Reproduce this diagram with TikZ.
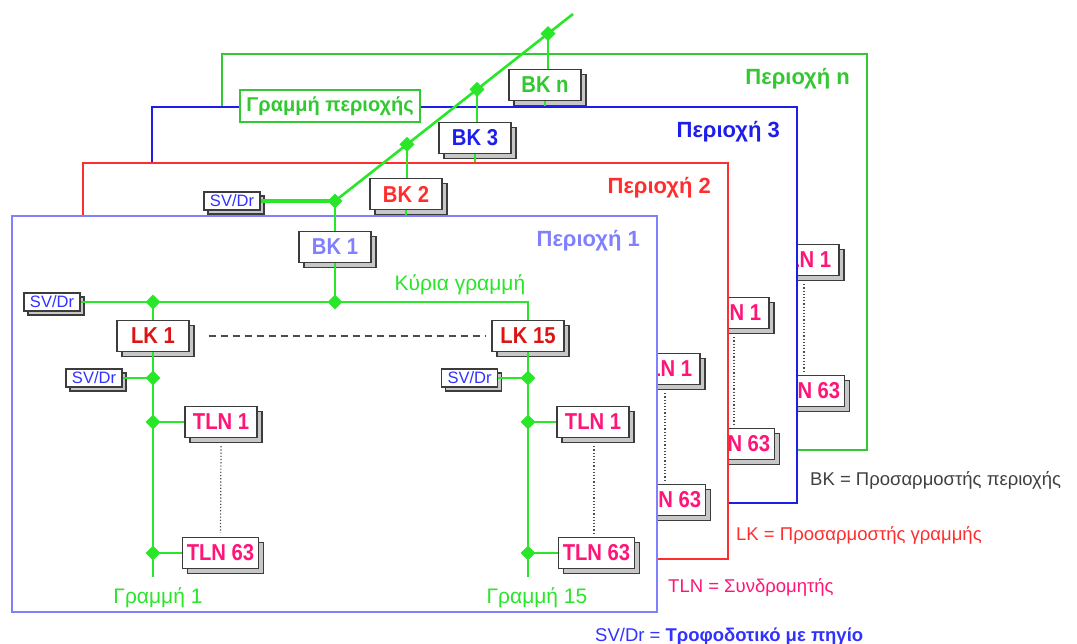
\documentclass[tikz,border=0pt]{standalone}
\usepackage{fontspec}
\setmainfont{Liberation Sans}
\newfontfamily\boxfont[FakeStretch=0.88]{Liberation Sans}
\usetikzlibrary{shadows,shapes.geometric}
\definecolor{gline}{RGB}{40,230,40}
\definecolor{rone}{RGB}{128,128,255}
\definecolor{rtwo}{RGB}{255,45,45}
\definecolor{rthree}{RGB}{30,30,235}
\definecolor{rnn}{RGB}{50,200,50}
\definecolor{lkred}{RGB}{220,20,20}
\definecolor{tlnpink}{RGB}{255,20,120}
\definecolor{svblue}{RGB}{50,50,255}
\definecolor{boxline}{RGB}{60,60,60}
\tikzset{
 x=1pt, y=-1pt,
 stkbox/.style={draw=boxline, fill=white, line width=1.3pt, minimum width=72pt, minimum height=31pt,
   inner xsep=4pt, inner ysep=0pt, font=\boxfont\fontsize{23}{24}\selectfont\bfseries,
   general shadow={shadow xshift=5pt, shadow yshift=-5pt, fill=black!22, draw=boxline, line width=1.3pt}},
 svbox/.style={draw=boxline, fill=white, line width=1.1pt, minimum width=56pt, minimum height=18pt,
   inner sep=1pt, text=svblue, font=\fontsize{16.5}{18}\selectfont,
   general shadow={shadow xshift=4pt, shadow yshift=-4pt, fill=black!22, draw=boxline, line width=1.1pt}},
 framebox/.style={fill=white, line width=1.5pt, minimum width=645pt, minimum height=396pt, inner sep=0pt},
 titletext/.style={anchor=base east, inner sep=0pt, font=\fontsize{22}{24}\selectfont\bfseries},
 bus/.style={draw=gline, line width=1.8pt},
 trunk/.style={draw=gline, line width=2.6pt},
 junc/.style={diamond, fill=gline, inner sep=0pt, minimum size=15pt},
 dashline/.style={draw=black!70, line width=1.3pt, dash pattern=on 7pt off 5pt},
 dotline/.style={draw=black!70, line width=1.2pt, dash pattern=on 1.2pt off 2pt},
 linelabel/.style={anchor=base, inner sep=0pt, text=gline, font=\fontsize{21}{24}\selectfont},
 areabox/.style={draw=rnn, fill=white, line width=1.2pt, minimum width=180pt, minimum height=32pt,
   inner sep=0pt, text=rnn, font=\fontsize{20}{22}\selectfont\bfseries},
 legend/.style={anchor=base west, inner sep=0pt, font=\fontsize{18.5}{20}\selectfont},
}
% common part of every region: frame, title, BK and the right-hand line's subscribers
% #1 prefix, #2 frame colour, #3 title, #4 BK text, #5 BK colour
\newcommand\regionbase[5]{%
 \node[framebox, draw=#2] (#1-frame) at (334.5,414) {};
 \node[titletext, text=#2] (#1-title) at (640,247) {#3};
 \node[stkbox, text=#5] (#1-bk) at (335,247) {#4};
 \coordinate (#1-j1) at (335,302);
 \draw[bus] (#1-bk.south) -- (#1-j1);
 \node[stkbox, text=tlnpink] (#1-t1b) at (593,422) {TLN 1};
 \node[stkbox, text=tlnpink] (#1-t63b) at (596.5,553) {TLN 63};
 \draw[dotline] ([yshift=-8pt,xshift=1pt]#1-t1b.south) -- ([yshift=4pt,xshift=-2.5pt]#1-t63b.north);
}
% a region seen behind another one (only its visible parts)
\newcommand\backregion[7]{%
\begin{scope}[shift={(#2,#3)}]
 \regionbase{#1}{#4}{#5}{#6}{#7}
\end{scope}}
% the front region, complete
\newcommand\frontregion[7]{%
\begin{scope}[shift={(#2,#3)}]
 \regionbase{#1}{#4}{#5}{#6}{#7}
 \node[svbox] (#1-sv0) at (52,302) {SV/Dr};
 \node[stkbox, text=lkred] (#1-lk1) at (153,336) {LK 1};
 \node[stkbox, text=lkred] (#1-lk15) at (528,336) {LK 15};
 \node[svbox] (#1-sv1) at (94,378) {SV/Dr};
 \node[svbox] (#1-sv2) at (469.5,378) {SV/Dr};
 \node[stkbox, text=tlnpink] (#1-t1a) at (221,422) {TLN 1};
 \node[stkbox, text=tlnpink] (#1-t63a) at (220.5,553) {TLN 63};
 \coordinate (#1-j0) at (153,302);
 \coordinate (#1-corner) at (528,302);
 \coordinate (#1-ja2) at (153,378);
 \coordinate (#1-ja3) at (153,422);
 \coordinate (#1-ja4) at (153,553);
 \coordinate (#1-enda) at (153,577);
 \coordinate (#1-jb2) at (528,378);
 \coordinate (#1-jb3) at (528,422);
 \coordinate (#1-jb4) at (528,553);
 \coordinate (#1-endb) at (528,577);
 \draw[bus] (#1-sv0.east) -- (#1-corner) -- (#1-lk15.north);
 \draw[bus] (#1-j0) -- (#1-lk1.north);
 \draw[bus] (#1-lk1.south) -- (#1-enda);
 \draw[bus] (#1-lk15.south) -- (#1-endb);
 \draw[bus] (#1-sv1.east) -- (#1-ja2);
 \draw[bus] (#1-sv2.east) -- (#1-jb2);
 \draw[bus] (#1-ja3) -- (#1-t1a.west);
 \draw[bus] (#1-ja4) -- (#1-t63a.west);
 \draw[bus] (#1-jb3) -- (#1-t1b.west);
 \draw[bus] (#1-jb4) -- (#1-t63b.west);
 \draw[dashline] ([xshift=19pt]#1-lk1.east) -- ([xshift=-6pt]#1-lk15.west);
 \draw[dotline] ([yshift=-8pt]#1-t1a.south) -- ([yshift=4pt]#1-t63a.north);
 \node[junc] (#1-dj0) at (#1-j0) {};
 \node[junc] (#1-dj1) at (#1-j1) {};
 \node[junc] (#1-dja2) at (#1-ja2) {};
 \node[junc] (#1-dja3) at (#1-ja3) {};
 \node[junc] (#1-dja4) at (#1-ja4) {};
 \node[junc] (#1-djb2) at (#1-jb2) {};
 \node[junc] (#1-djb3) at (#1-jb3) {};
 \node[junc] (#1-djb4) at (#1-jb4) {};
 \node[linelabel] (#1-main) at (460,291) {Κύρια γραμμή};
 \node[linelabel] (#1-l1) at (158,603) {Γραμμή 1};
 \node[linelabel] (#1-l15) at (537,603) {Γραμμή 15};
\end{scope}}
\begin{document}
\begin{tikzpicture}
\useasboundingbox (0,0) rectangle (1077,644);
\fill[white] (0,0) rectangle (1077,644);
\backregion{rn}{210}{-162}{rnn}{Περιοχή n}{BK n}{rnn}
\backregion{r3}{140}{-109}{rthree}{Περιοχή 3}{BK 3}{rthree}
\backregion{r2}{71}{-53}{rtwo}{Περιοχή 2}{BK 2}{rtwo}
\frontregion{r1}{0}{0}{rone}{Περιοχή 1}{BK 1}{rone}
% area line
\node[areabox] (arealine) at (330,106) {Γραμμή περιοχής};
\node[svbox] (svtop) at (232,201) {SV/Dr};
\coordinate (d1) at (335,201);
\coordinate (d2) at (407,144.4);
\coordinate (d3) at (477,89.4);
\coordinate (d4) at (548,33.6);
\coordinate (dend) at (573,14);
\draw[trunk, line width=3.4pt] (svtop.east) -- (d1);
\draw[trunk] (d1) -- (dend);
\draw[bus] (d1) -- (d1 |- r1-bk.north);
\draw[bus] (d2) -- (d2 |- r2-bk.north);
\draw[bus] (d3) -- (d3 |- r3-bk.north);
\draw[bus] (d4) -- (d4 |- rn-bk.north);
\node[junc] (nd1) at (d1) {};
\node[junc] (nd2) at (d2) {};
\node[junc] (nd3) at (d3) {};
\node[junc] (nd4) at (d4) {};
% legend
\node[legend, text=black!75] (legbk) at (810,485) {BK = Προσαρμοστής περιοχής};
\node[legend, text=rtwo] (leglk) at (736,540) {LK = Προσαρμοστής γραμμής};
\node[legend, text=tlnpink] (legtln) at (668,592) {TLN = Συνδρομητής};
\node[legend, text=svblue] (legsv) at (595,641) {SV/Dr = \textbf{Τροφοδοτικό με πηγίο}};
\end{tikzpicture}
\end{document}
